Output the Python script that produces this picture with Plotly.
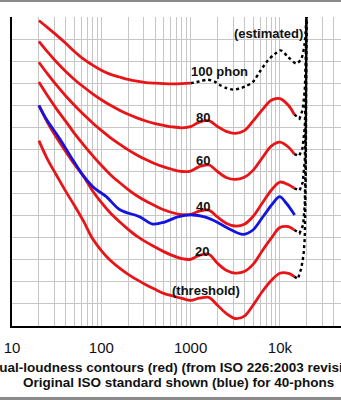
import math
import plotly.graph_objects as go

# Frequencies (Hz) at which the contours are tabulated
freq = [20, 25, 31.5, 40, 50, 63, 80, 100, 125, 160, 200, 250, 315, 400, 500,
        630, 800, 1000, 1250, 1600, 2000, 2500, 3150, 4000, 5000, 6300, 8000,
        10000, 12500, 14500]

# Equal-loudness contours, dB SPL (ISO 226:2003)
threshold = [74.0, 65.5, 58.3, 51.0, 44.6, 37.6, 29.5, 24.2, 19.9, 16.2, 13.4,
             11.0, 8.7, 6.6, 4.8, 3.6, 2.5, 1.6, 2.6, 3.0, -0.6, -4.3, -6.6,
             -5.5, -0.6, 5.4, 10.6, 13.9, 13.8, 12.4]
phon20 = [90.0, 82.2, 75.4, 69.0, 63.3, 57.9, 51.2, 46.0, 41.4, 37.2, 33.8,
          30.7, 28.1, 25.8, 23.7, 21.9, 20.5, 20.2, 22.0, 22.5, 18.4, 15.3,
          14.0, 14.7, 17.9, 23.9, 29.8, 34.6, 35.0, 33.5]
phon40 = [100.5, 94.3, 88.4, 82.7, 77.3, 72.2, 67.2, 62.8, 58.8, 55.0, 51.8,
          49.0, 46.6, 44.5, 42.7, 41.3, 40.5, 40.6, 42.0, 42.5, 39.4, 36.6,
          35.3, 36.1, 39.6, 45.5, 51.5, 55.2, 54.0, 52.4]
phon60 = [109.5, 104.2, 99.1, 94.2, 90.0, 85.9, 82.0, 78.6, 75.5, 72.4, 69.8,
          67.5, 65.4, 63.5, 62.1, 60.9, 60.0, 60.2, 62.2, 63.0, 60.0, 57.3,
          56.4, 57.4, 60.5, 66.0, 71.5, 73.3, 71.0, 67.9]
phon80 = [119.0, 114.2, 109.6, 105.3, 101.7, 98.4, 95.2, 92.5, 90.1, 87.8,
          85.9, 84.3, 82.9, 81.7, 80.9, 80.2, 79.8, 80.3, 82.4, 83.0, 80.4,
          78.2, 77.3, 78.5, 82.8, 87.8, 92.3, 93.0, 89.9, 85.8]

# 100 phon is only tabulated up to 1 kHz
freq100 = freq[:18]
phon100 = [128.4, 125.2, 121.8, 118.1, 114.4, 111.0, 108.2, 105.9, 104.1,
           102.8, 101.7, 100.9, 100.3, 100.0, 99.8, 99.7, 99.8, 100.0]

# Estimated continuation of the 100 phon contour
est100_freq = [1000, 1260, 1560, 1860, 2120, 2530, 2980, 3540, 4130, 4990,
               5930, 7350, 8730, 10190, 12300, 15280, 17380, 18920, 19770]
est100 = [100.0, 100.8, 101.6, 100.7, 99.2, 97.8, 97.1, 97.6, 98.6, 100.6,
          105.1, 110.4, 113.1, 114.9, 112.0, 108.9, 111.2, 118.0, 130.0]

# Estimated high-frequency ends of the other contours
tail_thr_freq = [14500, 15900, 17400, 18400, 19000, 19500, 19800]
tail_thr = [12.4, 11.3, 16.3, 22.2, 30.0, 60.0, 130.0]
tail20_freq = [14500, 16600, 18200, 19000, 19500, 19800]
tail20 = [33.5, 32.0, 35.8, 45.0, 70.0, 130.0]
tail40_freq = [14500, 16600, 18000, 19000, 19500, 19800]
tail40 = [52.4, 51.4, 55.0, 65.0, 85.0, 130.0]
tail60_freq = [14500, 16400, 17900, 19000, 19500, 19800]
tail60 = [67.9, 67.0, 70.5, 80.0, 95.0, 130.0]
tail80_freq = [14500, 16600, 18000, 19000, 19500, 19800]
tail80 = [85.8, 84.0, 88.0, 97.0, 110.0, 130.0]

# Original ISO standard, 40 phon
blue_freq = [20, 24.6, 34.1, 48.1, 62.2, 84.1, 113.8, 160, 268, 378, 512, 715,
             1052, 1435, 1940, 2595, 3855, 4988, 6457, 8360, 9935, 11800, 14630]
blue40 = [90.0, 83.3, 75.0, 65.2, 58.4, 52.4, 48.6, 42.8, 39.5, 36.2, 37.1,
          39.4, 40.3, 39.4, 37.2, 34.4, 31.5, 33.5, 39.5, 45.6, 48.6, 45.6, 40.3]

x_ticks = [10, 100, 1000, 10000]
x_ticktext = ["10", "100", "1000", "10k"]
y_ticks = list(range(-10, 131, 10))

RED = "rgb(232,20,24)"
BLUE = "rgb(20,20,225)"
GRID = "#c6c6c6"
FONT = "Liberation Sans, Arial, sans-serif"

fig = go.Figure()

def solid(x, y, color):
    fig.add_trace(go.Scatter(x=x, y=y, mode="lines",
                             line=dict(color=color, width=2.8, shape="spline",
                                       smoothing=0.9),
                             hoverinfo="skip", showlegend=False))

def dotted(x, y, shape="linear"):
    fig.add_trace(go.Scatter(x=x, y=y, mode="lines",
                             line=dict(color="black", width=2.4, dash="dot",
                                       shape=shape, smoothing=0.8),
                             hoverinfo="skip", showlegend=False))

for tf, tv in [(tail_thr_freq, tail_thr), (tail20_freq, tail20),
               (tail40_freq, tail40), (tail60_freq, tail60),
               (tail80_freq, tail80)]:
    dotted(tf, tv)
dotted(est100_freq, est100, shape="spline")

for curve in [threshold, phon20, phon40, phon60, phon80]:
    solid(freq, curve, RED)
solid(freq100, phon100, RED)
solid(blue_freq, blue40, BLUE)

labels = [("100 phon", 2101, 105.1), ("80", 1373, 84.5), ("60", 1373, 65.2),
          ("40", 1373, 44.3), ("20", 1338, 23.7), ("(threshold)", 1499, 6.3),
          ("(estimated)", 7432, 122.5)]
for text, fx, fy in labels:
    fig.add_annotation(x=math.log10(fx), y=fy, text="<b>" + text + "</b>",
                       showarrow=False,
                       font=dict(family=FONT, size=13, color="#111"),
                       xanchor="center", yanchor="middle")

L, T, B = 12, 17, 74
W, H = 341, 400
pw, ph = W - L, H - T - B

def px(x):
    return (x - L) / pw

def py(y):
    return (H - B - y) / ph

fig.add_annotation(xref="paper", yref="paper", x=px(173), y=py(367),
                   text="<b>Equal-loudness contours (red) (from ISO 226:2003 revision)</b>",
                   showarrow=False, xanchor="center", yanchor="middle",
                   font=dict(family=FONT, size=13.5, color="#111"))
fig.add_annotation(xref="paper", yref="paper", x=px(178), y=py(382),
                   text="<b>Original ISO standard shown (blue) for 40-phons</b>",
                   showarrow=False, xanchor="center", yanchor="middle",
                   font=dict(family=FONT, size=13.5, color="#111"))

# frame edges of the page
for y0, y1 in [(0, 2), (397, 400)]:
    fig.add_shape(type="rect", xref="paper", yref="paper",
                  x0=px(0), x1=px(W), y0=py(y1), y1=py(y0),
                  fillcolor="#8a8a8a", line=dict(width=0), layer="above")

fig.update_xaxes(type="log", range=[1, 1 + pw / 89.3],
                 tickmode="array", tickvals=x_ticks, ticktext=x_ticktext,
                 showgrid=True, gridcolor=GRID, gridwidth=1,
                 minor=dict(dtick="D1", showgrid=True, gridcolor=GRID,
                            gridwidth=1, ticks=""),
                 showline=True, linecolor="black", linewidth=2, ticks="",
                 zeroline=False, automargin=False, ticklabelstandoff=7,
                 tickfont=dict(family=FONT, size=15, color="#111"))
fig.update_yaxes(range=[-10, 130], tickmode="array", tickvals=y_ticks,
                 showgrid=True, gridcolor=GRID, gridwidth=1,
                 showline=True, linecolor="black", linewidth=2, ticks="",
                 zeroline=False, automargin=False, ticklabelstandoff=9,
                 tickfont=dict(family=FONT, size=15, color="#111"))

fig.update_layout(width=W, height=H, margin=dict(l=L, r=0, t=T, b=B, pad=0),
                  plot_bgcolor="white", paper_bgcolor="white",
                  template="none", showlegend=False)

fig.write_html("out.html")
